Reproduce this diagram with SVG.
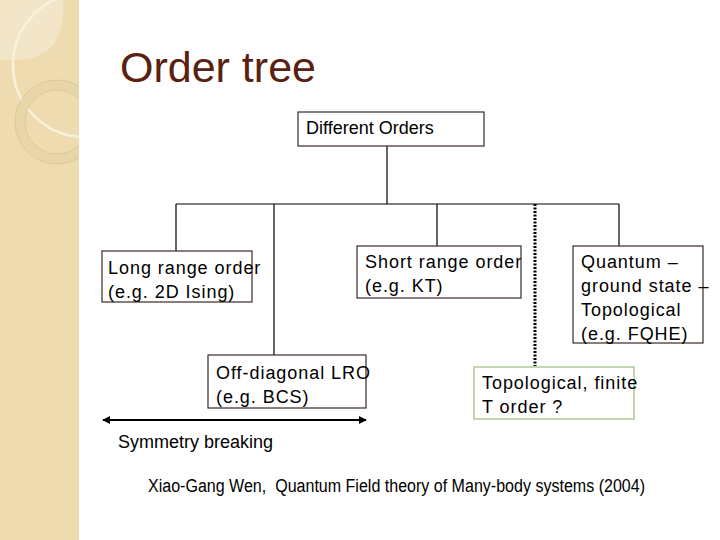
<svg xmlns="http://www.w3.org/2000/svg" width="720" height="540" viewBox="0 0 720 540">
<defs>
<clipPath id="strip"><rect x="0" y="0" width="79" height="540"/></clipPath>
<marker id="ah" viewBox="0 0 10 10" refX="9" refY="5" markerWidth="4" markerHeight="4" orient="auto-start-reverse"><path d="M0,0 L10,5 L0,10 z" fill="#000"/></marker>
</defs>
<style>
.box{fill:#fff;stroke:#3a2a25;stroke-width:1.2}
.lbl{font-family:"Liberation Sans",Arial,sans-serif;font-size:18px;fill:#000}
.sp{letter-spacing:0.95px}
.ln{stroke:#000;stroke-width:1.2;fill:none}
</style>
<rect width="720" height="540" fill="#fff"/>
<g id="background" clip-path="url(#strip)">
<rect x="0" y="0" width="79" height="540" fill="#eedcb0"/>
<path d="M0,0 H63 V10 Q63,60 13,60 H0 Z" fill="#f3e6c8"/>
<circle cx="85" cy="65" r="72" fill="none" stroke="#faf1dc" stroke-width="2.5"/>
<circle cx="57" cy="122" r="37" fill="none" stroke="#e8d5a8" stroke-width="9"/>
<circle cx="57" cy="122" r="42" fill="none" stroke="#d8c08e" stroke-width="0.8"/>
<circle cx="57" cy="122" r="32" fill="none" stroke="#d8c08e" stroke-width="0.8"/>
</g>
<text x="120" y="82" font-family="Liberation Sans,Arial,sans-serif" font-size="43" fill="#5a2010">Order tree</text>
<g id="connectors">
<path class="ln" d="M387,146 V204 M176,204 H619 M176,204 V251 M274,204 V355 M437,204 V246 M619,204 V246"/>
<line x1="535" y1="204" x2="535" y2="366" stroke="#000" stroke-width="3" stroke-dasharray="2,1.5"/>
<line x1="103" y1="420" x2="366" y2="420" stroke="#000" stroke-width="2" marker-start="url(#ah)" marker-end="url(#ah)"/>
</g>
<g id="root">
<rect class="box" x="298" y="112" width="186" height="34"/>
<text class="lbl" x="306" y="134" font-size="16">Different Orders</text>
</g>
<g id="long">
<rect class="box" x="102" y="251" width="150" height="51"/>
<text class="lbl sp" x="108" y="274">Long range order</text>
<text class="lbl sp" x="108" y="298">(e.g. 2D Ising)</text>
</g>
<g id="short">
<rect class="box" x="357" y="246" width="164" height="52"/>
<text class="lbl sp" x="365" y="268">Short range order</text>
<text class="lbl sp" x="365" y="292">(e.g. KT)</text>
</g>
<g id="quantum">
<rect class="box" x="573" y="246" width="130" height="97"/>
<text class="lbl sp" x="581" y="268">Quantum –</text>
<text class="lbl sp" x="581" y="292">ground state –</text>
<text class="lbl sp" x="581" y="316">Topological</text>
<text class="lbl sp" x="581" y="340">(e.g. FQHE)</text>
</g>
<g id="offdiag">
<rect class="box" x="208" y="355" width="158" height="53"/>
<text class="lbl sp" x="216" y="379">Off-diagonal LRO</text>
<text class="lbl sp" x="216" y="403">(e.g. BCS)</text>
</g>
<g id="topo">
<rect class="box" x="474" y="367" width="160" height="52" style="stroke:#9bbb7b"/>
<text class="lbl sp" x="482" y="389">Topological, finite</text>
<text class="lbl sp" x="482" y="413">T order ?</text>
</g>
<text class="lbl" x="118" y="448" font-size="16">Symmetry breaking</text>
<text class="lbl" x="148" y="492" font-size="14" fill="#111" textLength="497" lengthAdjust="spacingAndGlyphs" xml:space="preserve">Xiao-Gang Wen,  Quantum Field theory of Many-body systems (2004)</text>
</svg>
